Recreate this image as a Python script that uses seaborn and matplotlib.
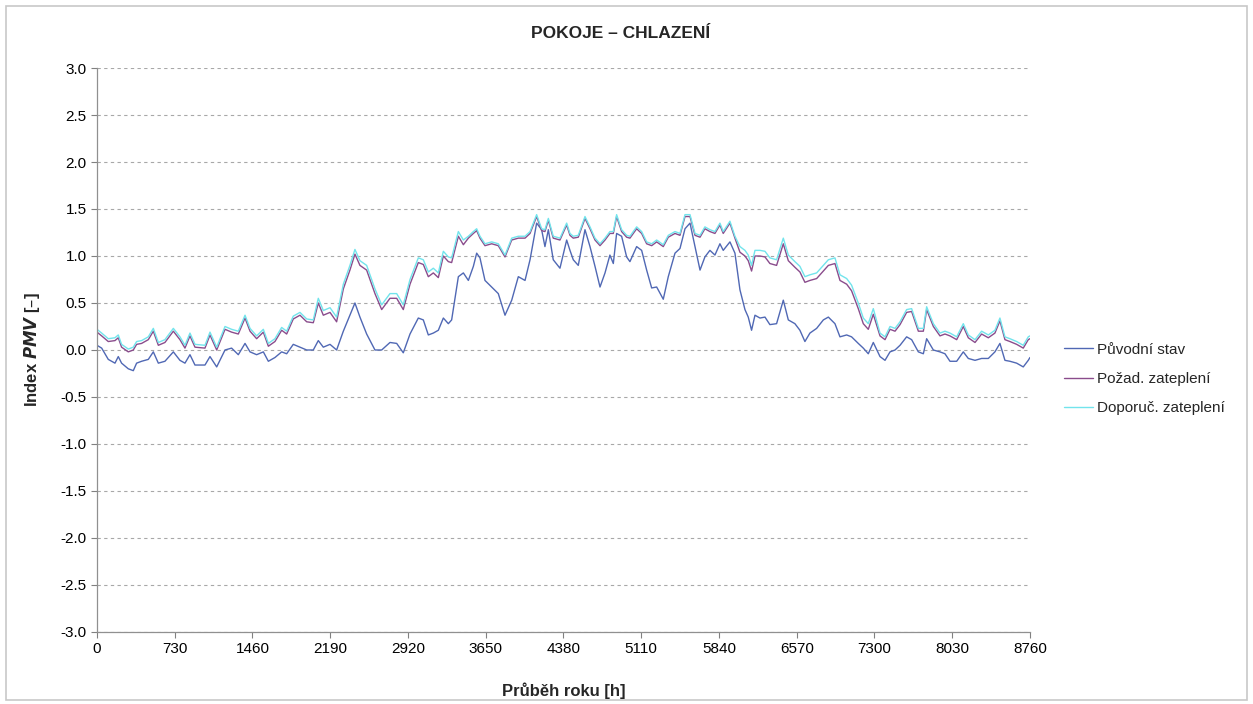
import numpy as np
import matplotlib
matplotlib.use("Agg")
import matplotlib.pyplot as plt
import seaborn as sns
from matplotlib.patches import Rectangle

hours = [0, 44, 106, 169, 200, 231, 294, 341, 372, 419, 482, 529, 576, 638, 717, 779, 826, 873, 920,
         1014, 1061, 1124, 1202, 1264, 1327, 1390, 1437, 1499, 1562, 1609, 1671, 1734, 1781, 1843, 1906,
         1969, 2031, 2078, 2125, 2188, 2250, 2313, 2375, 2422, 2469, 2532, 2610, 2673, 2751, 2814, 2876,
         2939, 3017, 3064, 3111, 3158, 3205, 3252, 3299, 3330, 3393, 3440, 3487, 3534, 3565, 3596, 3643,
         3706, 3768, 3831, 3894, 3956, 4019, 4066, 4128, 4175, 4206, 4238, 4284, 4347, 4410, 4441, 4472,
         4519, 4582, 4629, 4676, 4723, 4770, 4816, 4848, 4879, 4926, 4973, 5004, 5067, 5114, 5161, 5208,
         5255, 5317, 5364, 5427, 5474, 5521, 5568, 5615, 5662, 5708, 5755, 5802, 5849, 5880, 5943, 5990,
         6037, 6084, 6115, 6146, 6178, 6225, 6272, 6318, 6381, 6444, 6491, 6553, 6600, 6647, 6694, 6757,
         6820, 6867, 6929, 6976, 7039, 7085, 7148, 7195, 7242, 7289, 7352, 7399, 7446, 7493, 7540, 7602,
         7649, 7712, 7759, 7790, 7853, 7915, 7962, 8009, 8072, 8134, 8181, 8244, 8306, 8369, 8431, 8478,
         8525, 8572, 8635, 8697, 8744, 8760]

puvodni = [0.05, 0.02, -0.10, -0.14, -0.07, -0.14, -0.20, -0.22, -0.14, -0.12, -0.10, -0.02, -0.14, -0.12,
           -0.02, -0.11, -0.14, -0.05, -0.16, -0.16, -0.07, -0.18, 0.00, 0.02, -0.05, 0.07, -0.02, -0.05,
           -0.02, -0.12, -0.08, -0.02, -0.04, 0.06, 0.03, 0.00, 0.00, 0.10, 0.03, 0.06, 0.00, 0.20, 0.37,
           0.50, 0.35, 0.17, 0.00, 0.00, 0.08, 0.07, -0.03, 0.17, 0.34, 0.32, 0.16, 0.18, 0.21, 0.34, 0.28,
           0.32, 0.78, 0.82, 0.74, 0.89, 1.03, 0.98, 0.74, 0.67, 0.60, 0.37, 0.53, 0.78, 0.74, 0.96, 1.35,
           1.28, 1.10, 1.28, 0.96, 0.87, 1.17, 1.06, 0.96, 0.90, 1.28, 1.10, 0.89, 0.67, 0.82, 1.01, 0.92,
           1.24, 1.21, 0.99, 0.94, 1.10, 1.06, 0.85, 0.66, 0.67, 0.54, 0.78, 1.03, 1.08, 1.29, 1.35, 1.10,
           0.85, 0.99, 1.06, 1.01, 1.13, 1.06, 1.15, 1.03, 0.64, 0.43, 0.35, 0.21, 0.37, 0.34, 0.35, 0.27,
           0.28, 0.53, 0.32, 0.28, 0.21, 0.09, 0.18, 0.23, 0.32, 0.35, 0.28, 0.14, 0.16, 0.14, 0.07, 0.02,
           -0.04, 0.08, -0.07, -0.11, -0.02, 0.00, 0.05, 0.14, 0.11, -0.02, -0.04, 0.12, 0.00, -0.02, -0.04,
           -0.12, -0.12, -0.02, -0.09, -0.11, -0.09, -0.09, -0.02, 0.07, -0.11, -0.12, -0.14, -0.18, -0.11,
           -0.08]

pozad = [0.19, 0.15, 0.09, 0.10, 0.13, 0.03, -0.02, 0.00, 0.06, 0.07, 0.11, 0.20, 0.05, 0.08, 0.20, 0.11,
         0.02, 0.15, 0.03, 0.02, 0.16, 0.00, 0.22, 0.19, 0.17, 0.34, 0.20, 0.12, 0.19, 0.04, 0.09, 0.21,
         0.17, 0.33, 0.37, 0.30, 0.29, 0.50, 0.37, 0.40, 0.30, 0.65, 0.85, 1.02, 0.90, 0.85, 0.60, 0.43,
         0.55, 0.55, 0.43, 0.70, 0.93, 0.91, 0.78, 0.82, 0.77, 1.00, 0.94, 0.93, 1.21, 1.12, 1.19, 1.24,
         1.27, 1.19, 1.11, 1.13, 1.11, 0.99, 1.17, 1.19, 1.19, 1.24, 1.42, 1.27, 1.26, 1.38, 1.19, 1.17,
         1.33, 1.22, 1.19, 1.20, 1.40, 1.29, 1.17, 1.11, 1.17, 1.24, 1.24, 1.42, 1.26, 1.20, 1.19, 1.29,
         1.24, 1.13, 1.11, 1.15, 1.10, 1.20, 1.24, 1.22, 1.42, 1.42, 1.22, 1.20, 1.29, 1.26, 1.24, 1.33,
         1.24, 1.35, 1.19, 1.04, 1.00, 0.95, 0.84, 1.00, 1.00, 0.99, 0.92, 0.90, 1.13, 0.95, 0.88, 0.83,
         0.72, 0.74, 0.76, 0.84, 0.90, 0.92, 0.74, 0.70, 0.63, 0.44, 0.28, 0.22, 0.38, 0.15, 0.11, 0.22,
         0.20, 0.27, 0.40, 0.41, 0.20, 0.20, 0.43, 0.25, 0.15, 0.17, 0.15, 0.11, 0.25, 0.13, 0.08, 0.17,
         0.13, 0.18, 0.31, 0.11, 0.09, 0.06, 0.02, 0.11, 0.12]

doporuc = [0.22, 0.18, 0.12, 0.13, 0.16, 0.06, 0.01, 0.03, 0.09, 0.10, 0.14, 0.23, 0.08, 0.11, 0.23, 0.14,
           0.05, 0.18, 0.06, 0.05, 0.19, 0.03, 0.25, 0.22, 0.20, 0.37, 0.23, 0.15, 0.22, 0.07, 0.12, 0.24,
           0.20, 0.36, 0.40, 0.33, 0.32, 0.55, 0.42, 0.45, 0.35, 0.70, 0.90, 1.07, 0.95, 0.90, 0.65, 0.48,
           0.60, 0.60, 0.48, 0.75, 0.98, 0.96, 0.83, 0.87, 0.82, 1.05, 0.99, 0.98, 1.26, 1.17, 1.21, 1.26,
           1.29, 1.21, 1.13, 1.15, 1.13, 1.01, 1.19, 1.21, 1.21, 1.26, 1.44, 1.29, 1.28, 1.40, 1.21, 1.19,
           1.35, 1.24, 1.21, 1.22, 1.42, 1.31, 1.19, 1.13, 1.19, 1.26, 1.26, 1.44, 1.28, 1.22, 1.21, 1.31,
           1.26, 1.15, 1.13, 1.17, 1.12, 1.22, 1.26, 1.24, 1.44, 1.44, 1.24, 1.22, 1.31, 1.28, 1.26, 1.35,
           1.26, 1.37, 1.21, 1.10, 1.06, 1.01, 0.90, 1.06, 1.06, 1.05, 0.98, 0.96, 1.19, 1.01, 0.94, 0.89,
           0.78, 0.80, 0.82, 0.90, 0.96, 0.98, 0.80, 0.76, 0.69, 0.50, 0.34, 0.28, 0.44, 0.18, 0.14, 0.25,
           0.23, 0.30, 0.43, 0.44, 0.23, 0.23, 0.46, 0.28, 0.18, 0.20, 0.18, 0.14, 0.28, 0.16, 0.11, 0.20,
           0.16, 0.21, 0.34, 0.14, 0.12, 0.09, 0.05, 0.14, 0.15]

labels = ["Původní stav", "Požad. zateplení", "Doporuč. zateplení"]
colors = ["#5068B4", "#8A4C8C", "#72E4EC"]
x_ticks = list(range(0, 8761, 730))
y_ticks = [-3.0, -2.5, -2.0, -1.5, -1.0, -0.5, 0.0, 0.5, 1.0, 1.5, 2.0, 2.5, 3.0]

sns.set_style("white")
plt.rcParams['font.family'] = ['Liberation Sans', 'DejaVu Sans']

fig = plt.figure(figsize=(12.53, 7.04), dpi=100)
ax = fig.add_axes([0.0774, 0.1023, 0.7446, 0.8011])

for vals, lab, col in zip([puvodni, pozad, doporuc], labels, colors):
    sns.lineplot(x=hours, y=vals, ax=ax, color=col, label=lab, linewidth=1.0)

ax.set_xlim(0, 8760)
ax.set_ylim(-3, 3)
ax.set_xticks(x_ticks)
ax.set_yticks(y_ticks)
ax.set_yticklabels([f"{v:.1f}" for v in y_ticks])
ax.tick_params(axis='both', labelsize=11, colors='#808080', length=4, width=0.8, direction='out',
               labelcolor='#000000', left=True, bottom=True)
ax.yaxis.grid(True, linestyle=(0, (3, 3)), color='#A8A8A8', linewidth=0.8)
ax.xaxis.grid(False)
for s in ['top', 'right']:
    ax.spines[s].set_visible(False)
for s in ['left', 'bottom']:
    ax.spines[s].set_color('#909090')
    ax.spines[s].set_linewidth(0.9)

ax.set_xlabel("Průběh roku [h]", fontsize=12, fontweight='bold')
ax.set_ylabel(r"Index $\mathbfit{PMV}$ [–]", fontsize=12, fontweight='bold')
ax.xaxis.set_label_coords(0.5, -0.09)
ax.yaxis.set_label_coords(-0.059, 0.5)

fig.text(0.495, 0.953, "POKOJE – CHLAZENÍ", fontsize=12.5, fontweight='bold', ha='center', va='center')

ax.legend(loc='center left', bbox_to_anchor=(0.838, 0.4616), bbox_transform=fig.transFigure,
          frameon=False, fontsize=11, handlelength=1.9, labelspacing=1.0, handletextpad=0.3)

fig.patches.append(Rectangle((0.005, 0.006), 0.99, 0.985, transform=fig.transFigure,
                             fill=False, edgecolor='#C8C8C8', linewidth=1.2))

plt.savefig("out.png", dpi=100)
